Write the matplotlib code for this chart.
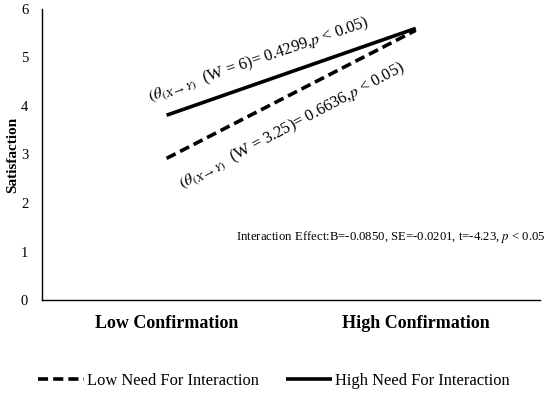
import matplotlib
matplotlib.use("Agg")
import matplotlib.pyplot as plt

plt.rcParams['font.family'] = ['Liberation Serif', 'DejaVu Serif']
plt.rcParams['mathtext.fontset'] = 'stix'

# data
categories = ["Low Confirmation", "High Confirmation"]
low_need = [2.92, 5.56]
high_need = [3.81, 5.60]
series_names = ["Low Need For Interaction", "High Need For Interaction"]

fig = plt.figure(figsize=(5.5, 3.93), dpi=100)
ax = fig.add_axes([0.0764, 0.2366, 0.906, 0.7406])

x = range(len(categories))
ax.plot(x, low_need, color='black', lw=2.6, linestyle=(0, (2.8, 1.4)),
        solid_capstyle='butt', label=series_names[0])
ax.plot(x, high_need, color='black', lw=2.6, solid_capstyle='butt',
        label=series_names[1])

ax.set_xlim(-0.5, 1.5)
ax.set_ylim(0, 6)
ax.set_yticks(range(0, 7))
ax.set_xticks(list(x))
ax.set_xticklabels(categories, fontweight='bold', fontsize=13)
ax.tick_params(axis='both', length=0)
ax.tick_params(axis='y', pad=10, labelsize=10.5)
ax.tick_params(axis='x', pad=11)
ax.set_ylabel("Satisfaction", fontweight='bold', fontsize=11)
ax.yaxis.set_label_coords(-0.045, 0.5)

for side in ['top', 'right']:
    ax.spines[side].set_visible(False)
for side in ['left', 'bottom']:
    ax.spines[side].set_linewidth(1.0)

# slope annotations
fig.text(259 / 550, 1 - 60 / 393,
         r"$(\theta_{(X\rightarrow Y)}$  (W = 6)= 0.4299,$p$ < 0.05)",
         rotation=19, ha='center', va='center', fontsize=11.8)
fig.text(292 / 550, 1 - 126 / 393,
         r"$(\theta_{(X\rightarrow Y)}$  (W = 3.25)= 0.6636,$p$ < 0.05)",
         rotation=28, ha='center', va='center', fontsize=11.8)
fig.text(236 / 550, 1 - 237 / 393,
         r"Interaction Effect:B=-0.0850, SE=-0.0201, t=-4.23, $p$ < 0.05",
         ha='left', va='center', fontsize=9.2)

fig.legend(loc='center', bbox_to_anchor=(0.498, 1 - 381 / 393), ncol=2,
           frameon=False, fontsize=11.9, handlelength=2.8, handletextpad=0.2,
           columnspacing=1.6)

fig.savefig("out.png", dpi=100)
